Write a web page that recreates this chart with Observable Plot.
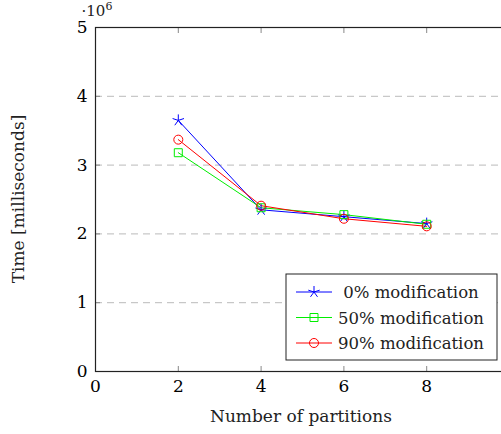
<!DOCTYPE html>
<html><head><meta charset="utf-8">
<script src="https://cdn.jsdelivr.net/npm/d3@7"></script>
<script src="https://cdn.jsdelivr.net/npm/@observablehq/plot@0.6"></script>
<style>
html,body{margin:0;padding:0;background:#fff;overflow:hidden;}
#wrap{width:501px;height:434px;overflow:hidden;position:relative;}
#wrap svg{max-width:none !important;}
svg text{font-family:"DejaVu Serif",serif;}
</style></head>
<body><div id="wrap"></div>
<script>
const partitions = [2, 4, 6, 8];
const seriesNames = ["0% modification", "50% modification", "90% modification"];
const mod0 = [3.65, 2.35, 2.25, 2.15];
const mod50 = [3.18, 2.38, 2.28, 2.14];
const mod90 = [3.37, 2.41, 2.22, 2.11];
const colors = ["#0000ff", "#00ee00", "#ff0000"];
const xTicks = [0, 2, 4, 6, 8, 10];
const xTickLabels = [0, 2, 4, 6, 8];
const yTicks = [0, 1, 2, 3, 4, 5];
const gridTicks = [1, 2, 3, 4];

const star5 = {draw(ctx, size){const r=Math.sqrt(size)*0.75;for(let i=0;i<5;i++){const a=-Math.PI/2+i*2*Math.PI/5;ctx.moveTo(0,0);ctx.lineTo(r*Math.cos(a),r*Math.sin(a));}}};
const symbols = [star5, d3.symbolSquare, d3.symbolCircle];

const data = [];
[mod0, mod50, mod90].forEach((vals, s) => vals.forEach((v, i) => data.push({series: seriesNames[s], x: partitions[i], y: v})));

const font = "DejaVu Serif";
const plot = Plot.plot({
  width: 509, height: 434,
  marginLeft: 95, marginRight: 0, marginTop: 27, marginBottom: 63,
  style: {fontFamily: font, fontSize: "16px", background: "white", maxWidth: "none"},
  x: {domain: [0, 10], label: null},
  y: {domain: [0, 5], label: null},
  color: {domain: seriesNames, range: colors},
  symbol: {domain: seriesNames, range: symbols},
  marks: [
    Plot.gridY(gridTicks, {stroke: "#bbb", strokeOpacity: 1, strokeDasharray: "7,5"}),
    Plot.axisX(xTickLabels, {tickSize: 0, tickPadding: 8, fontSize: 17, label: null, tickFormat: d => String(d)}),
    Plot.axisY(yTicks, {tickSize: 0, tickPadding: 8, fontSize: 17, label: null, tickFormat: d => String(d)}),
    Plot.axisX(xTicks, {anchor: "bottom", tickSize: -5, text: null, label: null, stroke: "#888"}),
    Plot.axisX(xTicks, {anchor: "top", tickSize: -5, text: null, label: null, stroke: "#888"}),
    Plot.axisY(yTicks, {anchor: "left", tickSize: -5, text: null, label: null, stroke: "#888"}),
    Plot.line(data, {x: "x", y: "y", z: "series", stroke: "series", strokeWidth: 1}),
    Plot.dot(data, {x: "x", y: "y", stroke: "series", symbol: "series", r: 4.5, strokeWidth: 1, fill: "none"}),
    Plot.frame({stroke: "#222", strokeWidth: 1.2})
  ]
});
document.getElementById("wrap").appendChild(plot);

const svg = d3.select(plot);
// axis titles
svg.append("text").attr("x", 301).attr("y", 422).attr("text-anchor", "middle")
  .attr("font-size", 17).attr("fill", "#222").text("Number of partitions");
svg.append("text").attr("transform", "translate(24,199) rotate(-90)").attr("text-anchor", "middle")
  .attr("font-size", 17).attr("fill", "#222").text("Time [milliseconds]");
const ex = svg.append("text").attr("x", 97).attr("y", 16).attr("font-size", 15).attr("fill", "#222");
ex.append("tspan").text("·10");
ex.append("tspan").attr("dy", -6).attr("font-size", 11).text("6");

// legend
const lg = svg.append("g");
lg.append("rect").attr("x", 286).attr("y", 274).attr("width", 211).attr("height", 86)
  .attr("fill", "white").attr("stroke", "#222").attr("stroke-width", 1);
seriesNames.forEach((name, i) => {
  const cy = 292 + i * 25.5;
  lg.append("line").attr("x1", 296).attr("x2", 332).attr("y1", cy).attr("y2", cy).attr("stroke", colors[i]);
  lg.append("path").attr("transform", `translate(314,${cy})`)
    .attr("d", d3.symbol(symbols[i], 64)()).attr("fill", "none").attr("stroke", colors[i]);
  lg.append("text").attr("x", 411).attr("y", cy + 6).attr("text-anchor", "middle")
    .attr("font-size", 16.5).attr("fill", "#222").text(name);
});
</script></body></html>
